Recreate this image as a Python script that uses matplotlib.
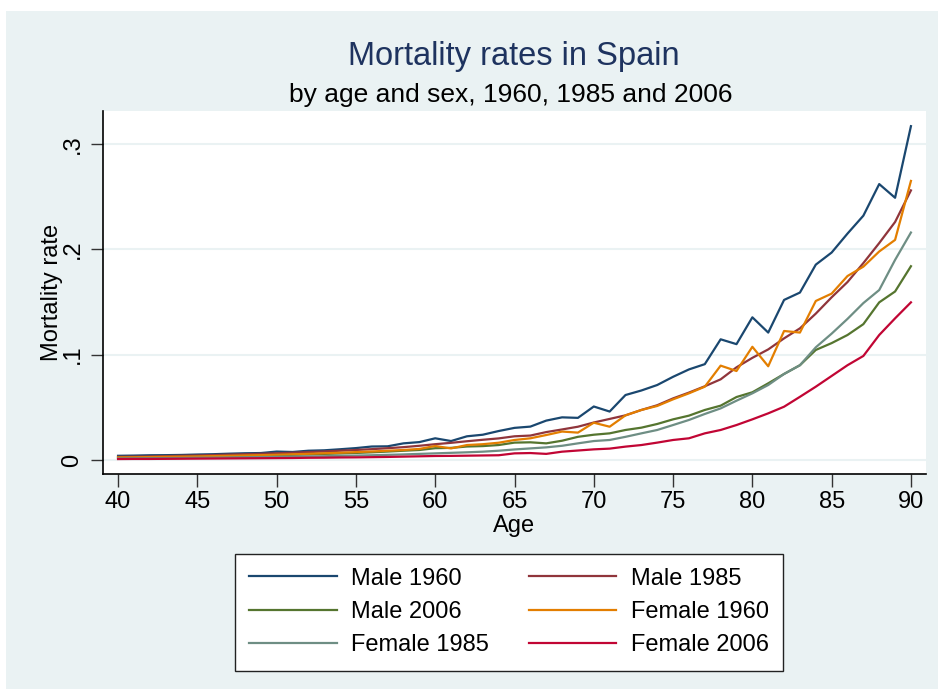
import matplotlib
matplotlib.use("Agg")
import matplotlib.pyplot as plt
from matplotlib.patches import Rectangle

plt.rcParams['font.family'] = ['Liberation Sans', 'DejaVu Sans']

ages = list(range(40, 91))

male_1960 = [.0040, .0042, .0045, .0046, .0048, .0052, .0055, .0060, .0064, .0066,
             .0080, .0076, .0088, .0092, .0102, .0113, .0128, .0130, .0158, .0170,
             .0206, .0180, .0225, .0240, .0275, .0305, .0317, .0374, .0405, .0400,
             .0508, .0460, .0617, .0660, .0712, .0790, .0860, .0910, .1146, .1100,
             .1355, .1210, .1520, .1590, .1855, .1970, .2150, .2320, .2620, .2490,
             .3170]
male_1985 = [.0030, .0032, .0034, .0037, .0040, .0043, .0047, .0051, .0055, .0059,
             .0064, .0069, .0075, .0081, .0088, .0095, .0103, .0112, .0122, .0135,
             .0150, .0163, .0178, .0192, .0205, .0225, .0232, .0265, .0290, .0316,
             .0356, .0390, .0424, .0475, .0520, .0585, .0640, .0700, .0766, .0880,
             .0970, .1050, .1155, .1250, .1390, .1545, .1690, .1870, .2060, .2260,
             .2560]
male_2006 = [.0020, .0021, .0023, .0025, .0027, .0029, .0032, .0035, .0038, .0041,
             .0045, .0049, .0053, .0058, .0062, .0067, .0073, .0080, .0088, .0095,
             .0112, .0115, .0128, .0132, .0142, .0165, .0168, .0158, .0183, .0220,
             .0240, .0253, .0285, .0307, .0342, .0386, .0421, .0475, .0516, .0598,
             .0643, .0728, .0817, .0900, .1045, .1110, .1187, .1290, .1497, .1600,
             .1840]
female_1960 = [.0025, .0026, .0028, .0030, .0032, .0034, .0037, .0040, .0043, .0046,
               .0050, .0054, .0059, .0064, .0069, .0075, .0081, .0088, .0095, .0105,
               .0133, .0110, .0142, .0150, .0164, .0190, .0206, .0237, .0270, .0260,
               .0354, .0316, .0424, .0475, .0513, .0576, .0633, .0696, .0896, .0845,
               .1075, .0890, .1225, .1210, .1510, .1580, .1747, .1836, .1980, .2090,
               .2650]
female_1985 = [.0015, .0016, .0017, .0018, .0019, .0021, .0022, .0024, .0026, .0028,
               .0030, .0032, .0034, .0036, .0039, .0042, .0045, .0049, .0053, .0058,
               .0063, .0068, .0073, .0079, .0088, .0100, .0110, .0120, .0135, .0158,
               .0180, .0190, .0220, .0253, .0285, .0332, .0380, .0437, .0490, .0563,
               .0633, .0712, .0817, .0900, .1070, .1200, .1340, .1490, .1614, .1900,
               .2160]
female_2006 = [.0009, .0010, .0010, .0011, .0012, .0013, .0014, .0015, .0016, .0017,
               .0018, .0019, .0021, .0022, .0024, .0025, .0027, .0029, .0032, .0035,
               .0038, .0039, .0041, .0043, .0045, .0063, .0066, .0058, .0079, .0090,
               .0101, .0108, .0127, .0142, .0165, .0190, .0206, .0253, .0285, .0332,
               .0386, .0443, .0506, .0600, .0696, .0798, .0900, .0988, .1187, .1345,
               .1497]

series = [("Male 1960", male_1960, "#1a476f"),
          ("Male 1985", male_1985, "#90353b"),
          ("Male 2006", male_2006, "#55752f"),
          ("Female 1960", female_1960, "#e37e00"),
          ("Female 1985", female_1985, "#6e8e84"),
          ("Female 2006", female_2006, "#c10534")]

x_ticks = [40, 45, 50, 55, 60, 65, 70, 75, 80, 85, 90]
y_ticks = [0, .1, .2, .3]
y_tick_labels = ["0", ".1", ".2", ".3"]

W, H = 938, 689
fig = plt.figure(figsize=(W / 100, H / 100), dpi=100, facecolor="white")

# light panel behind everything (Stata graph region)
bg = "#eaf2f3"
fig.patches.append(Rectangle((6 / W, 0), 1 - 6 / W, 1 - 11 / H, transform=fig.transFigure,
                             facecolor=bg, edgecolor="none", zorder=-10))

ax = fig.add_axes([103 / W, 1 - 474 / H, (926 - 103) / W, (474 - 111) / H])
ax.set_facecolor("white")

lines = []
for name, vals, col in series:
    ln, = ax.plot(ages, vals, color=col, lw=1.6, label=name)
    lines.append(ln)

ax.set_xlim(39.05, 90.95)
ax.set_ylim(-0.0133, 0.3314)
ax.set_xticks(x_ticks)
ax.set_yticks(y_ticks)
ax.set_yticklabels(y_tick_labels, rotation=90, va="center")
ax.tick_params(axis="both", labelsize=17, length=9, width=1, color="#333333", direction="out")
ax.tick_params(axis="x", pad=3)
ax.tick_params(axis="y", pad=5)
ax.grid(axis="y", color=bg, lw=1.5)
ax.set_axisbelow(True)
for s in ["top", "right"]:
    ax.spines[s].set_visible(False)
for s in ["left", "bottom"]:
    ax.spines[s].set_linewidth(1.2)
    ax.spines[s].set_color("black")

ax.set_xlabel("Age", fontsize=17, labelpad=2)
ax.set_ylabel("Mortality rate", fontsize=17, labelpad=-1)

fig.text(514 / W, 1 - 56 / H, "Mortality rates in Spain", fontsize=23.5, color="#1e335f",
         ha="center", va="center")
fig.text(511 / W, 1 - 95 / H, "by age and sex, 1960, 1985 and 2006", fontsize=19,
         color="black", ha="center", va="center")

# legend filled row by row, like the original
order = [0, 2, 4, 1, 3, 5]
leg = fig.legend([lines[i] for i in order], [series[i][0] for i in order],
                 loc="center", bbox_to_anchor=(509 / W, 1 - 612 / H), ncol=2, fontsize=17,
                 frameon=True, fancybox=False, edgecolor="#222222", facecolor="white",
                 handlelength=3.7, handletextpad=0.6, columnspacing=1.7, labelspacing=0.48,
                 borderpad=0.6, borderaxespad=0)
leg.get_frame().set_linewidth(1.0)
leg.get_frame().set_alpha(1)

fig.savefig("out.png", dpi=100, facecolor="white")
